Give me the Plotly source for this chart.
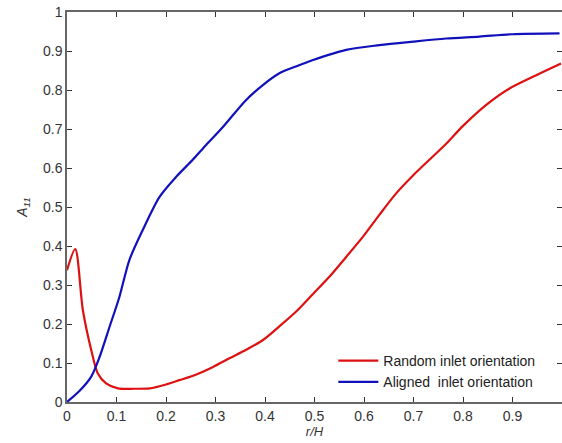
import plotly.graph_objects as go

red_x = [0.0, 0.0166, 0.032, 0.049, 0.062, 0.079, 0.103, 0.135, 0.167, 0.2, 0.227, 0.26, 0.295,
         0.328, 0.362, 0.396, 0.43, 0.463, 0.497, 0.53, 0.564, 0.598, 0.631, 0.665, 0.7, 0.732,
         0.766, 0.8, 0.847, 0.894, 0.948, 0.998]
red_y = [0.338, 0.392, 0.236, 0.133, 0.074, 0.048, 0.035, 0.034, 0.035, 0.045, 0.056, 0.07, 0.09,
         0.112, 0.134, 0.159, 0.195, 0.232, 0.277, 0.321, 0.372, 0.424, 0.48, 0.535, 0.582, 0.621,
         0.662, 0.708, 0.762, 0.804, 0.838, 0.868]

blue_x = [0.0, 0.025, 0.049, 0.066, 0.086, 0.106, 0.126, 0.153, 0.187, 0.221, 0.254, 0.281,
          0.315, 0.36, 0.395, 0.429, 0.47, 0.497, 0.564, 0.631, 0.699, 0.766, 0.833, 0.9, 0.995]
blue_y = [0.0, 0.028, 0.065, 0.116, 0.193, 0.27, 0.364, 0.441, 0.526, 0.578, 0.621, 0.659,
          0.705, 0.772, 0.812, 0.843, 0.864, 0.877, 0.903, 0.915, 0.924, 0.932, 0.937, 0.943, 0.945]

tick_vals = [0, 0.1, 0.2, 0.3, 0.4, 0.5, 0.6, 0.7, 0.8, 0.9, 1]
tick_text = ["0", "0.1", "0.2", "0.3", "0.4", "0.5", "0.6", "0.7", "0.8", "0.9", "1"]

fig = go.Figure()
fig.add_trace(go.Scatter(x=red_x, y=red_y, mode="lines", name="Random inlet orientation",
                         line=dict(color="#dd1111", width=2.2, shape="spline", smoothing=0.8)))
fig.add_trace(go.Scatter(x=blue_x, y=blue_y, mode="lines", name="Aligned  inlet orientation",
                         line=dict(color="#1111bb", width=2.2, shape="spline", smoothing=0.8)))

axis_common = dict(showgrid=False, zeroline=False, showline=True, linecolor="#666666", linewidth=1.5,
                   mirror="ticks", ticks="inside", ticklen=5, tickcolor="#333333",
                   tickvals=tick_vals, ticktext=tick_text,
                   tickfont=dict(family="Liberation Sans, Arial", size=14, color="#333333"))

fig.update_xaxes(range=[0, 1], title=dict(text="<i>r/H</i>", standoff=0,
                 font=dict(family="Liberation Sans, Arial", size=13, color="#333333")), **axis_common)
fig.update_yaxes(range=[0, 1], title=dict(text="<i>A</i><sub><i>11</i></sub>", standoff=12,
                 font=dict(family="Liberation Sans, Arial", size=14, color="#333333")), **axis_common)

fig.update_layout(
    width=562, height=443,
    margin=dict(l=67, r=0, t=12, b=41, autoexpand=False),
    plot_bgcolor="white", paper_bgcolor="white",
    legend=dict(x=0.538, y=0.146, xanchor="left", yanchor="top", bgcolor="rgba(0,0,0,0)",
                font=dict(family="Liberation Sans, Arial", size=14, color="#222222"),
                tracegroupgap=0, itemwidth=40),
)

fig.write_html("out.html", config={"displayModeBar": False},
               post_script="document.body.style.margin='0';document.body.style.overflow='hidden';")
